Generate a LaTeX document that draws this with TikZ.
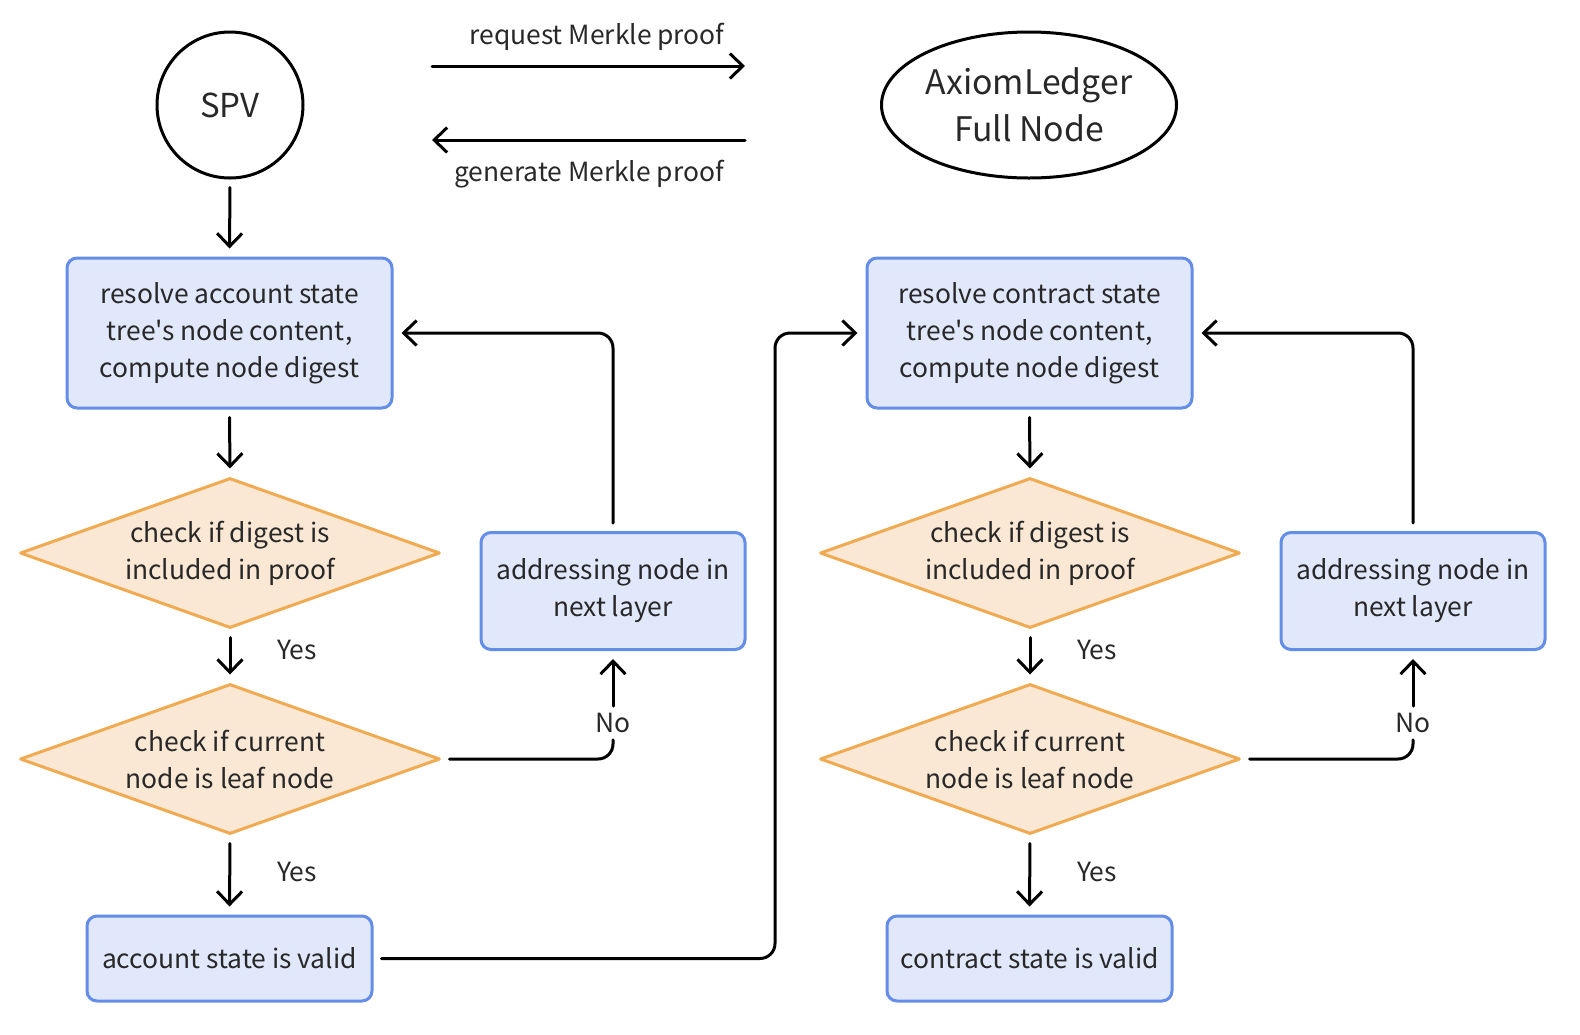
\documentclass[tikz,border=0pt]{standalone}
\usepackage{fontspec}
\setmainfont{Noto Sans CJK SC}[Ligatures=TeXOff]
\usetikzlibrary{shapes.geometric,arrows.meta,calc}
\definecolor{boxfill}{RGB}{225,232,252}
\definecolor{boxdraw}{RGB}{100,141,232}
\definecolor{dfill}{RGB}{250,232,212}
\definecolor{ddraw}{RGB}{240,170,82}
\definecolor{txt}{RGB}{40,40,40}
\begin{document}
\begin{tikzpicture}[x=0.5pt,y=-0.5pt,
  bodyfont/.style={font=\fontsize{13.2}{18.5}\selectfont},
  proc/.style={draw=boxdraw, fill=boxfill, line width=1.5pt, rounded corners=5pt, align=center, text=txt, inner sep=0pt, bodyfont},
  decision/.style={diamond, draw=ddraw, fill=dfill, line width=1.5pt, minimum width=210pt, minimum height=75pt, inner sep=0pt, line join=round},
  lbl/.style={text=txt, align=center, bodyfont},
  arr/.style={-{Straight Barb[length=6.5pt,width=12.5pt]}, line width=1.5pt, line cap=round, line join=round, shorten >=4pt, shorten <=4pt},
  plain/.style={line width=1.5pt, line cap=round, line join=round, shorten <=4pt, shorten >=4pt}]
\useasboundingbox (0,0) rectangle (1580,1034);
% top
\node[circle, draw, line width=1.5pt, minimum size=73pt, inner sep=0pt] (spv) at (230,105) {};
\node[text=txt, font=\fontsize{16.5}{20}\selectfont] (spvt) at (spv.center) {SPV};
\node[ellipse, draw, line width=1.5pt, minimum width=147.5pt, minimum height=73pt, inner sep=0pt] (full) at (1029,105) {};
\node[text=txt, align=center, font=\fontsize{16.9}{23.5}\selectfont] (fullt) at (full.center) {AxiomLedger\\Full Node};
\coordinate (r1) at (432,66);
\coordinate (r2) at (745,66);
\coordinate (g1) at (745,140);
\coordinate (g2) at (432,140);
\draw[arr, shorten >=0pt, shorten <=0pt] (r1) -- (r2);
\draw[arr, shorten >=0pt, shorten <=0pt] (g1) -- (g2);
\node[lbl] (reqt) at (597,37) {request Merkle proof};
\node[lbl] (gent) at (589,174) {generate Merkle proof};
% left column
\node[proc, minimum width=162.5pt, minimum height=75pt] (b1) at (229.5,333) {resolve account state\\tree's node content,\\compute node digest};
\node[decision] (d1) at (230,553) {};
\node[lbl] (d1t) at (d1.center) {check if digest is\\included in proof};
\node[decision] (d2) at (230,759) {};
\node[lbl] (d2t) at (d2.center) {check if current\\node is leaf node};
\node[proc, minimum width=142.5pt, minimum height=42.5pt] (v1) at (229.5,958.5) {account state is valid};
\node[proc, minimum width=132pt, minimum height=58.5pt] (a1) at (613,591) {addressing node in\\next layer};
\node[lbl] (y1) at (297,650) {Yes};
\node[lbl] (y2) at (297,872) {Yes};
\node[lbl] (n1) at (613,723) {No};
% right column
\node[proc, minimum width=162.5pt, minimum height=75pt] (b3) at (1029.5,333) {resolve contract state\\tree's node content,\\compute node digest};
\node[decision] (d3) at (1030,553) {};
\node[lbl] (d3t) at (d3.center) {check if digest is\\included in proof};
\node[decision] (d4) at (1030,759) {};
\node[lbl] (d4t) at (d4.center) {check if current\\node is leaf node};
\node[proc, minimum width=142.5pt, minimum height=42.5pt] (v2) at (1029.5,958.5) {contract state is valid};
\node[proc, minimum width=132pt, minimum height=58.5pt] (a2) at (1413,591) {addressing node in\\next layer};
\node[lbl] (y3) at (1097,650) {Yes};
\node[lbl] (y4) at (1097,872) {Yes};
\node[lbl] (n2) at (1413,723) {No};
% connectors left
\draw[arr] (spv.south) -- (b1.north);
\draw[arr] (b1.south) -- (d1.north);
\draw[arr] (d1.south) -- (d2.north);
\draw[arr] (d2.south) -- (v1.north);
\draw[plain, rounded corners=7.5pt, shorten >=0pt] (d2.east) -| (n1.south);
\draw[arr, shorten <=0pt] (n1.north) -- (a1.south);
\draw[arr, rounded corners=7.5pt] (a1.north) |- (b1.east);
\coordinate (bend) at (775,958.5);
\draw[arr, rounded corners=7.5pt] (v1.east) -- (bend) |- (b3.west);
% connectors right
\draw[arr] (b3.south) -- (d3.north);
\draw[arr] (d3.south) -- (d4.north);
\draw[arr] (d4.south) -- (v2.north);
\draw[plain, rounded corners=7.5pt, shorten >=0pt] (d4.east) -| (n2.south);
\draw[arr, shorten <=0pt] (n2.north) -- (a2.south);
\draw[arr, rounded corners=7.5pt] (a2.north) |- (b3.east);
\end{tikzpicture}
\end{document}
